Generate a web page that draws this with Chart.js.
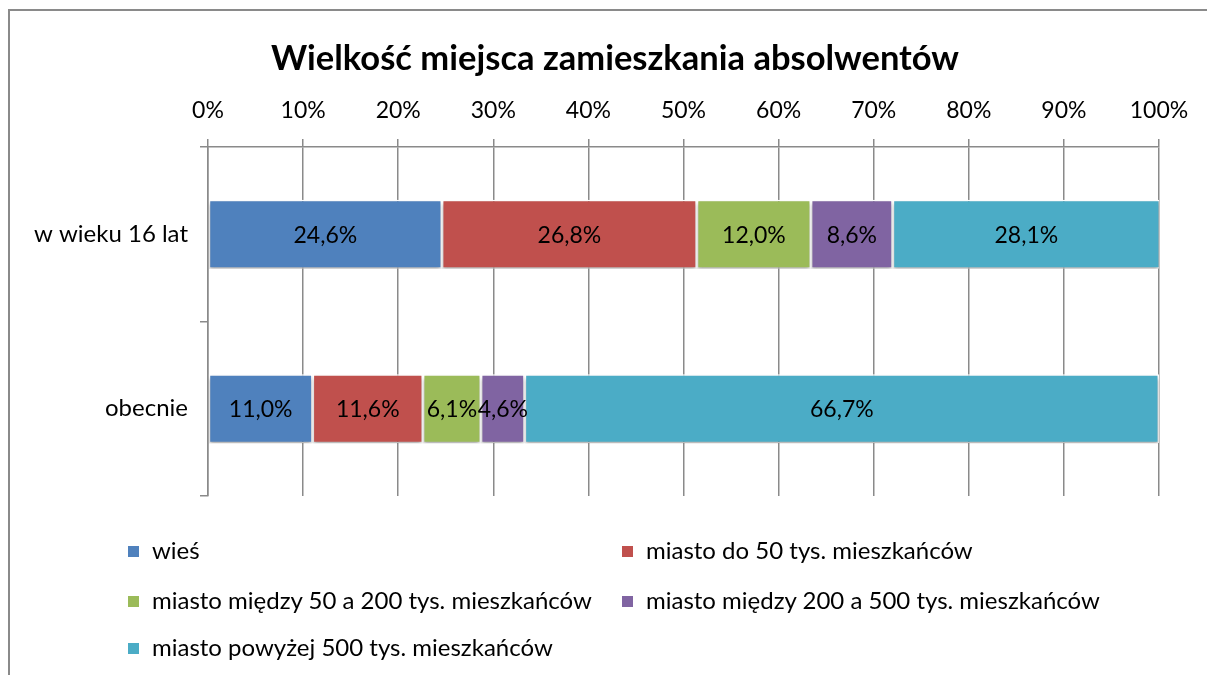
<!DOCTYPE html>
<html>
<head>
<meta charset="utf-8">
<script src="https://cdn.jsdelivr.net/npm/chart.js@4/dist/chart.umd.min.js"></script>
<style>
  body { margin: 0; background: #fff; font-family: Lato, sans-serif; }
  .wrap { position: relative; width: 1207px; height: 675px; overflow: hidden; }
  .frame { position: absolute; left: 8px; top: 9px; width: 1300px; height: 800px; border: 2px solid #8a8a8a; box-sizing: border-box; }
  canvas { position: absolute; left: 0; top: 0; }
  .title { position: absolute; left: 115px; width: 1000px; top: 36px; text-align: center; font-size: 34.5px; font-weight: bold; line-height: 42px; color: #000; white-space: nowrap; }
  .legend-item { position: absolute; font-size: 24px; color: #000; white-space: nowrap; line-height: 28px; }
  .legend-item span.box { display: inline-block; width: 11px; height: 11px; margin-right: 13px; vertical-align: 2px; }
</style>
</head>
<body>
<div class="wrap">
  <div class="frame"></div>
  <canvas id="chart" width="1207" height="675"></canvas>
  <div class="title" id="title"></div>
  <div id="legend"></div>
</div>
<script>
const title = "Wielkość miejsca zamieszkania absolwentów";
const categories = ["w wieku 16 lat", "obecnie"];
const seriesNames = [
  "wieś",
  "miasto do 50 tys. mieszkańców",
  "miasto między 50 a 200 tys. mieszkańców",
  "miasto między 200 a 500 tys. mieszkańców",
  "miasto powyżej 500 tys. mieszkańców"
];
const wies = [24.6, 11.0];
const miastoDo50 = [26.8, 11.6];
const miasto50do200 = [12.0, 6.1];
const miasto200do500 = [8.6, 4.6];
const miastoPow500 = [28.1, 66.7];
const tickValues = [0, 10, 20, 30, 40, 50, 60, 70, 80, 90, 100];
const colors = ["#4F81BD", "#C0504D", "#9BBB59", "#8064A2", "#4BACC6"];

const seriesValues = [wies, miastoDo50, miasto50do200, miasto200do500, miastoPow500];
const FONT = "Lato, sans-serif";

document.getElementById("title").textContent = title;

const datasets = seriesNames.map((name, i) => ({
  label: name,
  data: seriesValues[i],
  backgroundColor: colors[i],
  borderColor: "#ffffff",
  borderWidth: 1.5,
  borderSkipped: false,
  barPercentage: 0.395,
  categoryPercentage: 1
}));

// soft shadow under the bars, like the original
const barShadow = {
  id: "barShadow",
  beforeDatasetDraw(chart) {
    const ctx = chart.ctx;
    ctx.save();
    ctx.shadowColor = "rgba(0,0,0,0.3)";
    ctx.shadowBlur = 4;
    ctx.shadowOffsetY = 3;
  },
  afterDatasetDraw(chart) {
    chart.ctx.restore();
  }
};

const barLabels = {
  id: "barLabels",
  afterDatasetsDraw(chart) {
    const ctx = chart.ctx;
    ctx.save();
    ctx.font = "23px " + FONT;
    ctx.fillStyle = "#000";
    ctx.textAlign = "center";
    ctx.textBaseline = "middle";
    chart.data.datasets.forEach((ds, i) => {
      chart.getDatasetMeta(i).data.forEach((el, j) => {
        const v = ds.data[j];
        const x = (el.x + el.base) / 2;
        ctx.fillText(v.toFixed(1).replace(".", ",") + "%", x, el.y + 1);
      });
    });
    ctx.restore();
  }
};

new Chart(document.getElementById("chart"), {
  type: "bar",
  data: { labels: categories, datasets: datasets },
  options: {
    indexAxis: "y",
    responsive: false,
    animation: false,
    layout: { padding: { left: 0, right: 48, top: 74, bottom: 179 } },
    scales: {
      x: {
        position: "top",
        stacked: true,
        min: 0,
        max: 100,
        afterBuildTicks(scale) {
          scale.ticks = tickValues.map(v => ({ value: v }));
        },
        afterFit(scale) { scale.height = 73; },
        grid: { color: "#8a8a8a", lineWidth: 1.5, tickLength: 8 },
        border: { color: "#8a8a8a", width: 1.5 },
        ticks: {
          color: "#000",
          padding: 15,
          font: { family: FONT, size: 23 },
          callback: v => v + "%"
        }
      },
      y: {
        stacked: true,
        afterFit(scale) { scale.width = 208; },
        grid: { drawOnChartArea: false, color: "#8a8a8a", lineWidth: 1.5, tickLength: 8, offset: true },
        border: { color: "#8a8a8a", width: 1.5 },
        ticks: {
          color: "#000",
          padding: 12,
          font: { family: FONT, size: 24 }
        }
      }
    },
    plugins: {
      legend: { display: false },
      tooltip: { enabled: false },
      title: { display: false }
    }
  },
  plugins: [barShadow, barLabels]
});

// legend in two columns, as in the original
const legend = document.getElementById("legend");
const legendPos = [[128, 536], [622, 536], [128, 586], [622, 586], [128, 633]];
seriesNames.forEach((name, i) => {
  const item = document.createElement("div");
  item.className = "legend-item";
  item.style.left = legendPos[i][0] + "px";
  item.style.top = legendPos[i][1] + "px";
  item.innerHTML = `<span class="box" style="background:${colors[i]}"></span>${name}`;
  legend.appendChild(item);
});
</script>
</body>
</html>
